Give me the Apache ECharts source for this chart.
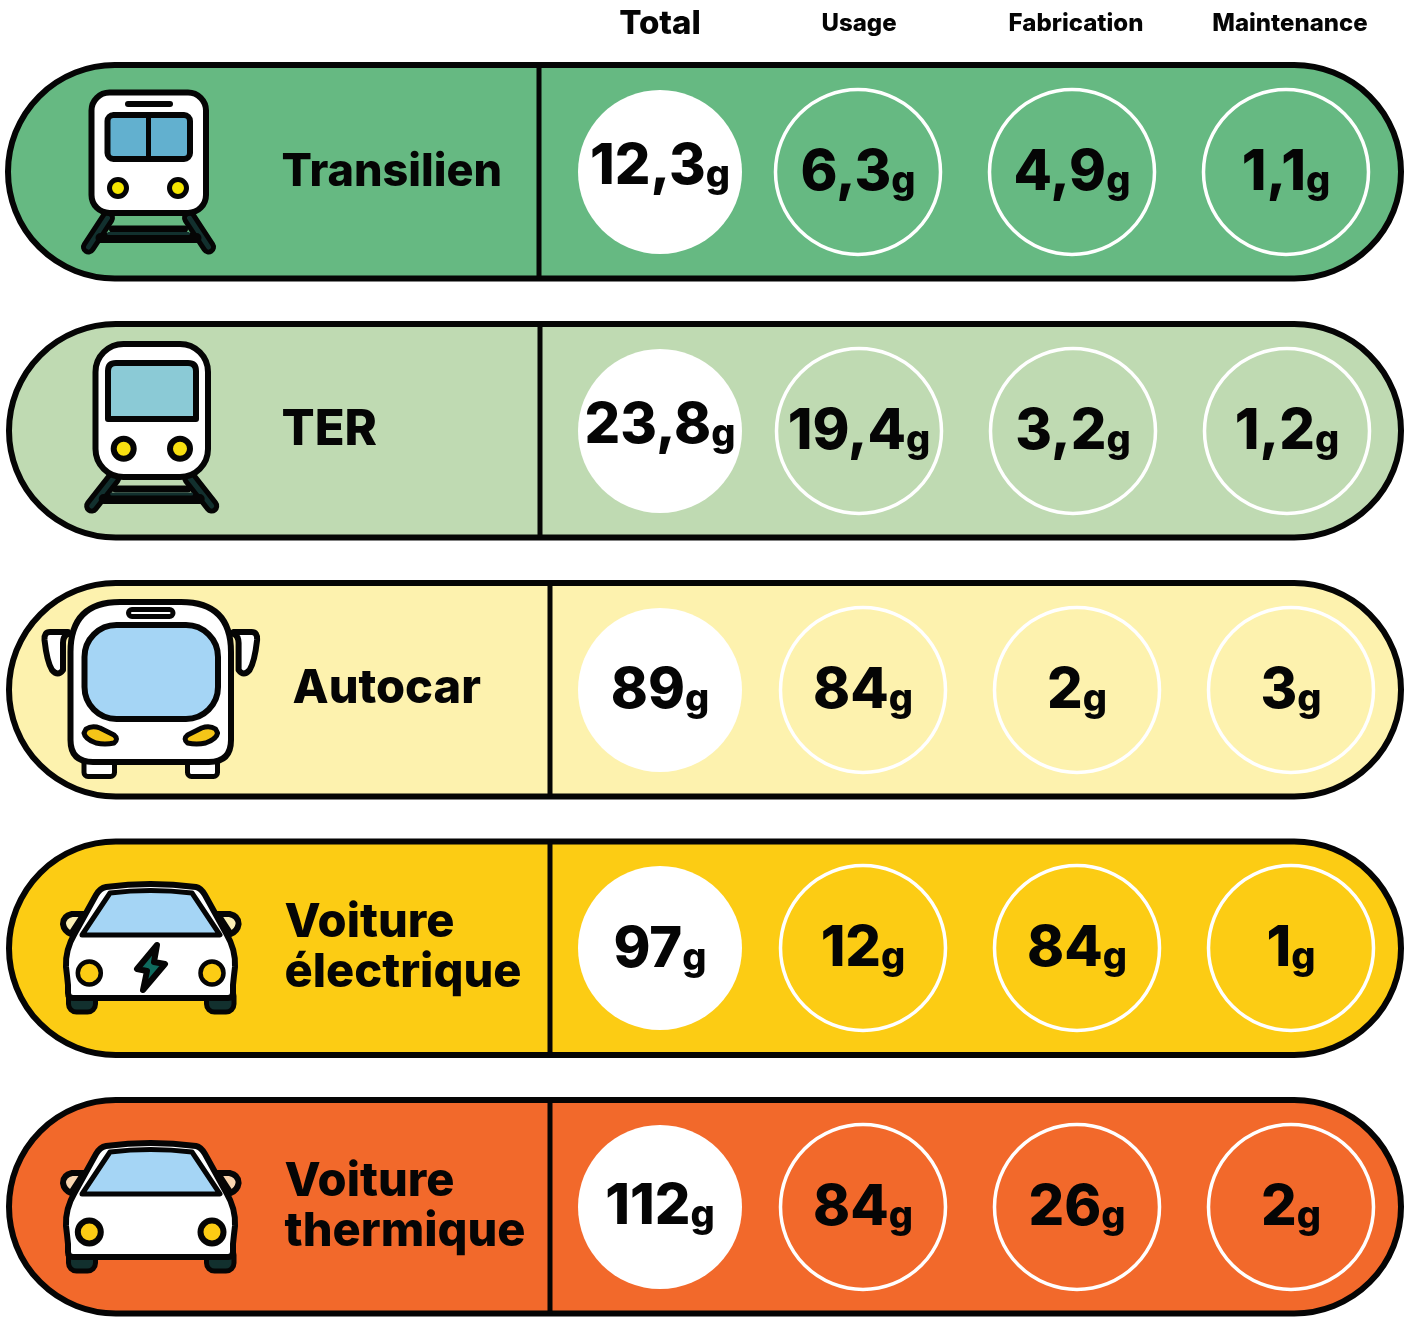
<!DOCTYPE html>
<html>
<head>
<meta charset="utf-8">
<title>Emissions par mode de transport</title>
<script src="https://cdn.jsdelivr.net/npm/echarts@6/dist/echarts.min.js"></script>
<style>
html,body{margin:0;padding:0;background:#fff;}
#main{width:1410px;height:1322px;}
</style>
</head>
<body>
<div id="main"></div>
<script>
// values (gCO2 per km)
var categories = ['Transilien', 'TER', 'Autocar', 'Voiture\nélectrique', 'Voiture\nthermique'];
var columns = ['Total', 'Usage', 'Fabrication', 'Maintenance'];
var total = [12.3, 23.8, 89, 97, 112];
var usage = [6.3, 19.4, 84, 12, 84];
var fabrication = [4.9, 3.2, 2, 84, 26];
var maintenance = [1.1, 1.2, 3, 1, 2];
var rowColors = ['#66b982', '#bfdab2', '#fdf2ae', '#fccc14', '#f2692b'];
var iconNames = ['train1', 'train2', 'bus', 'carElectric', 'carThermal'];

// layout, in page pixels
var pillTop = [65, 324, 583, 841.5, 1100];
var pillLeft = [8, 9, 9, 9, 9];
var pillRight = [1401, 1401, 1401, 1401, 1401];
var pillH = 213.5;
var dividerX = [539, 540, 550, 550, 550];
var circleY = [172, 431, 690, 948, 1207];
var colX = [
    [660, 660, 660, 660, 660],
    [858, 859, 863, 863, 863],
    [1072, 1073, 1077, 1077, 1077],
    [1286, 1287, 1291, 1291, 1291]
];
var totalLabelDy = [-12, -12, -6, -5, -7];
var otherLabelDy = [-6, -6, -6, -6, -6];
var nameX = [281, 281, 292, 284, 284];
var nameY = [172, 430, 689, 948, 1207];
var nameSize = [45, 49, 47, 47, 47];
var headerX = [660, 859, 1076, 1290];
var headerSize = [33, 24, 24, 24];
var iconShift = [0, 0, 0, 0, 259];

var FONT = 'Inter';
var INK = '#050505';

function fmt(v) {
    return String(v).replace('.', ',');
}

function valueSeries(values, col, isTotal) {
    var data = values.map(function (v, i) {
        return {
            value: [colX[col][i], circleY[i], v],
            label: {offset: [0, isTotal ? totalLabelDy[i] : otherLabelDy[i]]}
        };
    });
    return {
        type: 'scatter',
        name: columns[col],
        z: 3,
        silent: true,
        symbol: 'circle',
        symbolSize: isTotal ? 164 : 165,
        itemStyle: isTotal ? {color: '#fff', opacity: 1} : {color: 'rgba(0,0,0,0)', borderColor: '#fff', borderWidth: 3.5, opacity: 1},
        label: {
            show: true,
            position: 'inside',
            align: 'center',
            verticalAlign: 'middle',
            formatter: function (p) {
                return '{n|' + fmt(p.value[2]) + '}{g|g}';
            },
            rich: {
                n: {fontFamily: FONT, fontWeight: 800, fontSize: 56, color: INK, verticalAlign: 'bottom', lineHeight: 70},
                g: {fontFamily: FONT, fontWeight: 800, fontSize: 38, color: INK, verticalAlign: 'bottom', lineHeight: 60}
            }
        },
        data: data
    };
}

// small helpers for the pictograms
function st(fill, lw, stroke) {
    return {fill: fill, stroke: stroke === undefined ? INK : stroke, lineWidth: lw, lineCap: 'round', lineJoin: 'round'};
}
function rect(x0, y0, x1, y1, r, fill, lw) {
    return {type: 'rect', shape: {x: x0, y: y0, width: x1 - x0, height: y1 - y0, r: r}, style: st(fill, lw)};
}
function circ(cx, cy, r, fill, lw) {
    return {type: 'circle', shape: {cx: cx, cy: cy, r: r}, style: st(fill, lw)};
}
function line(x1, y1, x2, y2, lw, color) {
    return {type: 'line', shape: {x1: x1, y1: y1, x2: x2, y2: y2}, style: st(null, lw, color || INK)};
}
function path(d, fill, lw) {
    return {type: 'path', shape: {pathData: d}, style: st(fill, lw)};
}

function rails(cx, top, bottom, halfTop, halfBottom, bar1, bar2) {
    var out = [];
    [-1, 1].forEach(function (s) {
        out.push(line(cx + s * halfTop, top, cx + s * halfBottom, bottom, 15));
        out.push(line(cx + s * halfTop, top, cx + s * halfBottom, bottom, 5, '#12302e'));
    });
    out.push(line(cx - 36, bar1, cx + 36, bar1, 7));
    out.push(line(cx - 48, bar2, cx + 48, bar2, 10));
    out.push(line(cx - 40, (bar1 + bar2) / 2, cx + 40, (bar1 + bar2) / 2, 3, '#12302e'));
    return out;
}

function train1() {
    return rails(148.5, 218, 247, 41, 60, 229, 238).concat([
        rect(91.5, 92.5, 206, 213, 18, '#fff', 6),
        line(128, 104, 170, 104, 6),
        rect(107.5, 115, 190, 159, 6, '#62b0cf', 6),
        line(148.5, 115, 148.5, 159, 5),
        circ(118, 188, 8.5, '#f5e600', 5),
        circ(178, 188, 8.5, '#f5e600', 5)
    ]);
}

function train2() {
    return rails(151.7, 478, 506, 38, 60, 489, 499).concat([
        rect(95.5, 344, 208, 477, 28, '#fff', 6),
        path('M116,363 L188,363 Q196,363 196,371 L196,419 L108,419 L108,371 Q108,363 116,363 Z', '#8bcad6', 6),
        circ(123.7, 448.7, 10, '#f8e010', 6),
        circ(180, 448.7, 10, '#f8e010', 6)
    ]);
}

function bus() {
    return [
        path('M68,632 L50,632 Q44,632 44.5,640 Q47,662 52,670 Q58,677 63,670 L63,643 Q63,636 68,634', '#fff', 6),
        path('M233.6,632 L251.6,632 Q257.6,632 257.1,640 Q254.6,662 249.6,670 Q243.6,677 238.6,670 L238.6,643 Q238.6,636 233.6,634', '#fff', 6),
        rect(84, 760, 114.5, 776.5, 4, '#fff', 5),
        rect(187.5, 760, 217.5, 776.5, 4, '#fff', 5),
        path('M120,602 L181,602 Q231,602 231,652 L231,740 Q231,762 209,762 L93,762 Q70.5,762 70.5,740 L70.5,652 Q70.5,602 120,602 Z', '#fff', 6),
        rect(128.5, 609.5, 173, 616.5, 3.5, '#fff', 5),
        rect(84.5, 625, 218, 719, 32, '#a5d5f5', 6),
        path('M86,729 Q92,725 100,728 L114,735 Q119,739 114,743 Q105,745 96,743 Q85,739 84,733 Z', '#f5c518', 5),
        path('M215.6,729 Q209.6,725 201.6,728 L187.6,735 Q182.6,739 187.6,743 Q196.6,745 205.6,743 Q216.6,739 217.6,733 Z', '#f5c518', 5)
    ];
}

function car(mirrorFill, lightLw) {
    return [
        path('M84,914 L72,914 Q63,916 63,924 Q64,931 71,934 Z', mirrorFill, 6),
        path('M217.6,914 L229.6,914 Q238.6,916 238.6,924 Q237.6,931 230.6,934 Z', mirrorFill, 6),
        rect(68.5, 988, 95.5, 1012, 8, '#12302e', 5),
        rect(206.5, 988, 234, 1012, 8, '#12302e', 5),
        path('M106,887 Q150,881 196,887 Q201,888 205,895 L226,933 Q236,950 235,967 Q234,975 233,985 L233,993 Q233,998 228,998 L73,998 Q68,998 68,993 L68,985 Q67,975 66,967 Q65,950 75,933 L96,895 Q100,888 106,887 Z', '#fff', 6),
        path('M110,893 Q150,888 192,893 L220,935 L82,935 Z', '#a5d5f5', 5),
        circ(89.3, 973, 11.5, '#fccc14', lightLw),
        circ(212, 973, 11.5, '#fccc14', lightLw)
    ];
}

function iconChildren(name) {
    if (name === 'train1') return train1();
    if (name === 'train2') return train2();
    if (name === 'bus') return bus();
    if (name === 'carElectric') {
        return car('#fbefb5', 4.5).concat([
            path('M157,945 L137,969 L147,971 L143,990 L165,964 L154,962 Z', '#0f6b5e', 6)
        ]);
    }
    return car('#f8d5b0', 6);
}

var series = [];

// the rounded bands and the vertical divider
series.push({
    type: 'custom',
    z: 1,
    silent: true,
    encode: {x: 0, y: 1},
    data: categories.map(function (c, i) {
        return [pillLeft[i], pillTop[i], pillRight[i], pillTop[i] + pillH, dividerX[i]];
    }),
    renderItem: function (params, api) {
        var a = api.coord([api.value(0), api.value(1)]);
        var b = api.coord([api.value(2), api.value(3)]);
        var d = api.coord([api.value(4), api.value(1)]);
        var fill = rowColors[params.dataIndex];
        return {
            type: 'group',
            children: [
                {
                    type: 'rect',
                    shape: {x: a[0], y: a[1], width: b[0] - a[0], height: b[1] - a[1], r: (b[1] - a[1]) / 2},
                    style: {fill: fill, stroke: INK, lineWidth: 6}
                },
                {
                    type: 'line',
                    shape: {x1: d[0], y1: a[1], x2: d[0], y2: b[1]},
                    style: {stroke: INK, lineWidth: 5}
                }
            ]
        };
    }
});

series.push(valueSeries(total, 0, true));
series.push(valueSeries(usage, 1, false));
series.push(valueSeries(fabrication, 2, false));
series.push(valueSeries(maintenance, 3, false));

// pictograms
series.push({
    type: 'custom',
    z: 4,
    silent: true,
    encode: {x: 0, y: 1},
    data: iconNames.map(function (n, i) {
        return [0, iconShift[i]];
    }),
    renderItem: function (params, api) {
        var p = api.coord([api.value(0), api.value(1)]);
        return {
            type: 'group',
            x: p[0],
            y: p[1],
            children: iconChildren(iconNames[params.dataIndex])
        };
    }
});

// row names
series.push({
    type: 'scatter',
    z: 5,
    silent: true,
    symbolSize: 1,
    itemStyle: {color: 'rgba(0,0,0,0)', opacity: 1},
    data: categories.map(function (c, i) {
        return {
            value: [nameX[i], nameY[i]],
            label: {
                show: true,
                position: 'right',
                distance: 0,
                align: 'left',
                verticalAlign: 'middle',
                fontFamily: FONT,
                fontWeight: 800,
                fontSize: nameSize[i],
                lineHeight: 50,
                color: INK,
                formatter: c
            }
        };
    })
});

// column headers
series.push({
    type: 'scatter',
    z: 5,
    silent: true,
    symbolSize: 1,
    itemStyle: {color: 'rgba(0,0,0,0)', opacity: 1},
    data: columns.map(function (c, i) {
        return {
            value: [headerX[i], 24],
            label: {
                show: true,
                position: 'inside',
                align: 'center',
                verticalAlign: 'middle',
                fontFamily: FONT,
                fontWeight: 800,
                fontSize: headerSize[i],
                color: INK,
                formatter: c
            }
        };
    })
});

var myChart = echarts.init(document.getElementById('main'));
var option = {
    animation: false,
    backgroundColor: '#fff',
    grid: {left: 0, right: 0, top: 0, bottom: 0},
    xAxis: {type: 'value', min: 0, max: 1410, show: false},
    yAxis: {type: 'value', min: 0, max: 1322, inverse: true, show: false},
    series: series
};
myChart.setOption(option);
</script>
</body>
</html>
